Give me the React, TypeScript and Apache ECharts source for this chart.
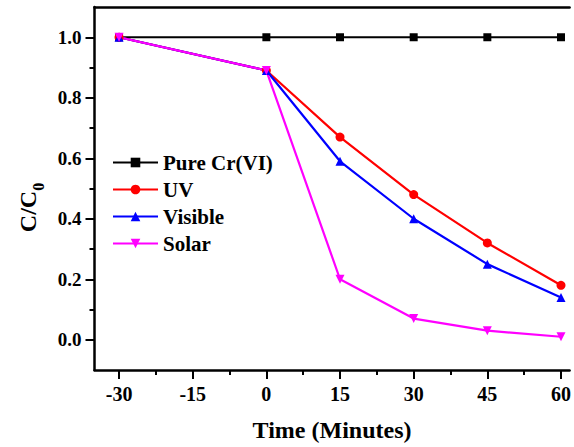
import React, { useEffect, useRef } from "react";
import * as echarts from "echarts";

const times = [-30, 0, 15, 30, 45, 60];
const pureCr = [1.0, 1.0, 1.0, 1.0, 1.0, 1.0];
const uv = [1.0, 0.89, 0.67, 0.48, 0.32, 0.18];
const visible = [1.0, 0.89, 0.59, 0.4, 0.25, 0.14];
const solar = [1.0, 0.89, 0.2, 0.07, 0.03, 0.01];

const xMajorTicks = [-30, -15, 0, 15, 30, 45, 60];
const xMinorTicks = [-22.5, -7.5, 7.5, 22.5, 37.5, 52.5];
const yMajorTicks = [0, 0.2, 0.4, 0.6, 0.8, 1.0];
const yMinorTicks = [0.1, 0.3, 0.5, 0.7, 0.9];

const FONT = '"Liberation Serif", "Times New Roman", serif';

export default function App() {
  const ref = useRef<HTMLDivElement>(null);
  useEffect(() => {
    if (!ref.current) return;
    const chart = echarts.init(ref.current, undefined, { renderer: "svg" });
    const pair = (ys: number[]) => times.map((t, i) => [t, ys[i]]);
    const baseX = {
      type: "value" as const,
      min: -35,
      max: 61.75,
      gridIndex: 0,
      splitLine: { show: false },
    };
    const baseY = {
      type: "value" as const,
      min: -0.1,
      max: 1.1,
      gridIndex: 0,
      splitLine: { show: false },
    };
    const mk = (name: string, ys: number[], color: string, symbol: string, rotate = 0) => ({
      name,
      type: "line",
      data: pair(ys),
      symbol,
      symbolSize: symbol === "rect" ? 8 : 9,
      symbolRotate: rotate,
      itemStyle: { color },
      lineStyle: { color, width: 2.2 },
      xAxisIndex: 0,
      yAxisIndex: 0,
    });
    chart.setOption({
      animation: false,
      backgroundColor: "#ffffff",
      grid: { left: 94.5, right: 0, top: 7, bottom: 75, containLabel: false },
      legend: {
        orient: "vertical",
        left: 112,
        top: 152,
        padding: 0,
        itemWidth: 45,
        itemHeight: 12,
        itemGap: 6,
        data: ["Pure Cr(VI)", "UV", "Visible", "Solar"],
        textStyle: {
          fontFamily: FONT,
          fontWeight: "bold",
          fontSize: 21,
          color: "#000",
          lineHeight: 20,
          padding: [0, 0, 0, 0],
        },
      },
      xAxis: [
        {
          ...baseX,
          position: "bottom",
          name: "Time (Minutes)",
          nameLocation: "middle",
          nameGap: 48,
          nameTextStyle: { fontFamily: FONT, fontWeight: "bold", fontSize: 24, color: "#000" },
          axisLine: { show: true, onZero: false, lineStyle: { color: "#000", width: 2.5 } },
          axisTick: { show: true, inside: false, length: 9, lineStyle: { color: "#000", width: 2 }, customValues: xMajorTicks },
          axisLabel: {
            show: true,
            margin: 14,
            customValues: xMajorTicks,
            fontFamily: FONT,
            fontWeight: "bold",
            fontSize: 20,
            color: "#000",
          },
        },
        {
          ...baseX,
          position: "bottom",
          axisLine: { show: false, onZero: false },
          axisTick: { show: true, inside: false, length: 5, lineStyle: { color: "#000", width: 2 }, customValues: xMinorTicks },
          axisLabel: { show: false },
        },
        {
          ...baseX,
          position: "top",
          axisLine: { show: true, onZero: false, lineStyle: { color: "#000", width: 2.5 } },
          axisTick: { show: false },
          axisLabel: { show: false },
        },
      ],
      yAxis: [
        {
          ...baseY,
          position: "left",
          name: "{a|C/C}{b|0}",
          nameLocation: "middle",
          nameGap: 50,
          nameRotate: 90,
          nameTextStyle: {
            padding: [0, 38, 0, 0],
            rich: {
              a: { fontFamily: FONT, fontWeight: "bold", fontSize: 24, color: "#000", lineHeight: 30, verticalAlign: "bottom" },
              b: { fontFamily: FONT, fontWeight: "bold", fontSize: 16, color: "#000", lineHeight: 30, verticalAlign: "bottom", padding: [0, 0, -7, 0] },
            },
          },
          axisLine: { show: true, onZero: false, lineStyle: { color: "#000", width: 2.5 } },
          axisTick: { show: true, inside: false, length: 9, lineStyle: { color: "#000", width: 2 }, customValues: yMajorTicks },
          axisLabel: {
            show: true,
            margin: 13,
            customValues: yMajorTicks,
            formatter: (v: number) => v.toFixed(1),
            fontFamily: FONT,
            fontWeight: "bold",
            fontSize: 19,
            color: "#000",
          },
        },
        {
          ...baseY,
          position: "left",
          axisLine: { show: false, onZero: false },
          axisTick: { show: true, inside: false, length: 5, lineStyle: { color: "#000", width: 2 }, customValues: yMinorTicks },
          axisLabel: { show: false },
        },
      ],
      series: [
        mk("Pure Cr(VI)", pureCr, "#000000", "rect"),
        mk("UV", uv, "#ff0000", "circle"),
        mk("Visible", visible, "#0000ff", "triangle"),
        mk("Solar", solar, "#ff00ff", "triangle", 180),
      ],
    });
    return () => chart.dispose();
  }, []);
  return (
    <div
      ref={ref}
      style={{ position: "fixed", left: 0, top: 0, width: 574, height: 447, background: "#fff" }}
    />
  );
}
